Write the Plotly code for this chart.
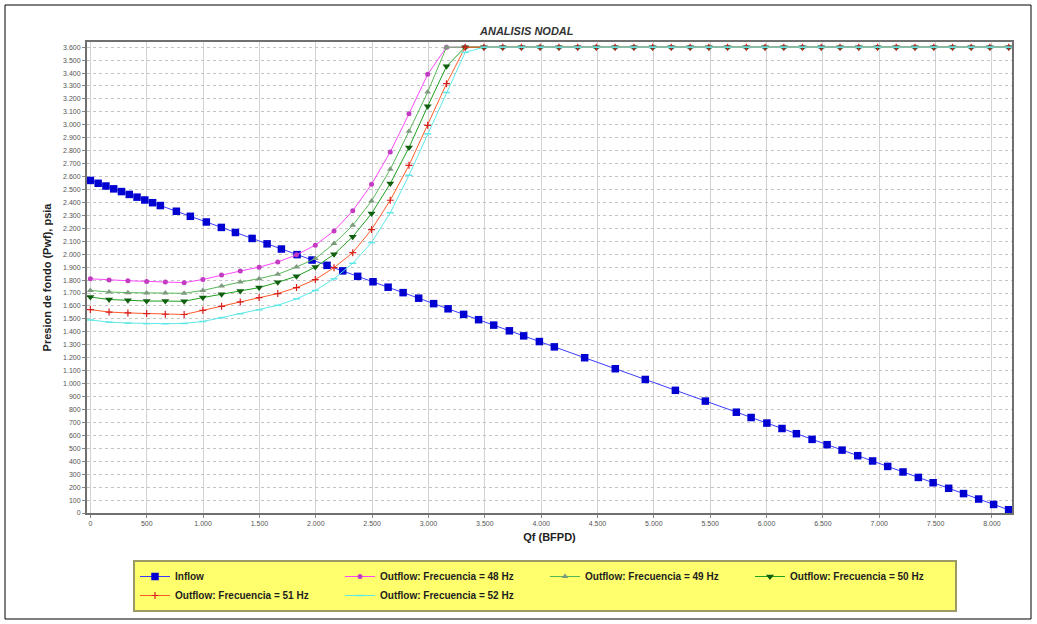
import plotly.graph_objects as go

# Inflow (IPR) curve: liquid rate (BFPD) vs bottom-hole flowing pressure (psia)
inflow_q = [0, 69, 138, 207, 276, 345, 414, 483, 552, 621, 763, 887, 1029, 1162, 1287,
            1435, 1568, 1695, 1834, 1967, 2100, 2239, 2372, 2508, 2642, 2775, 2913, 3046,
            3174, 3312, 3445, 3579, 3718, 3845, 3984, 4117, 4386, 4658, 4924, 5191, 5457,
            5732, 5863, 6003, 6137, 6265, 6404, 6537, 6670, 6809, 6941, 7075, 7211, 7347,
            7478, 7616, 7748, 7882, 8015, 8148]
inflow_p = [2570, 2548, 2527, 2505, 2484, 2462, 2441, 2419, 2398, 2376, 2332, 2293, 2249,
            2207, 2168, 2122, 2080, 2040, 1997, 1955, 1914, 1871, 1829, 1787, 1745, 1703,
            1660, 1618, 1578, 1535, 1494, 1452, 1408, 1369, 1325, 1284, 1200, 1115, 1032,
            948, 865, 779, 738, 695, 653, 613, 569, 528, 486, 443, 402, 360, 317, 275, 234,
            191, 150, 108, 66, 25]

# Outflow (VLP) curves share one rate grid
outflow_q = [0, 166, 333, 499, 665, 832, 998, 1164, 1330, 1497, 1663, 1829, 1996, 2162,
             2328, 2495, 2661, 2827, 2993, 3160, 3326, 3492, 3659, 3825, 3991, 4158, 4324,
             4490, 4656, 4823, 4989, 5155, 5322, 5488, 5654, 5821, 5987, 6153, 6319, 6486,
             6652, 6818, 6985, 7151, 7317, 7484, 7650, 7816, 7982, 8149]

p_48hz = [1810, 1800, 1795, 1790, 1785, 1780, 1805, 1840, 1870, 1900, 1940, 1995, 2070,
          2180, 2335, 2540, 2790, 3085, 3390, 3600, 3600, 3600, 3600, 3600, 3600, 3600,
          3600, 3600, 3600, 3600, 3600, 3600, 3600, 3600, 3600, 3600, 3600, 3600, 3600,
          3600, 3600, 3600, 3600, 3600, 3600, 3600, 3600, 3600, 3600, 3600]
p_49hz = [1720, 1708, 1703, 1700, 1700, 1698, 1720, 1754, 1785, 1811, 1845, 1901, 1966,
          2082, 2223, 2411, 2656, 2950, 3253, 3600, 3600, 3600, 3600, 3600, 3600, 3600,
          3600, 3600, 3600, 3600, 3600, 3600, 3600, 3600, 3600, 3600, 3600, 3600, 3600,
          3600, 3600, 3600, 3600, 3600, 3600, 3600, 3600, 3600, 3600, 3600]
p_50hz = [1669, 1650, 1644, 1638, 1638, 1636, 1665, 1690, 1716, 1742, 1783, 1829, 1901,
          1999, 2135, 2314, 2546, 2824, 3143, 3452, 3600, 3600, 3600, 3600, 3600, 3600,
          3600, 3600, 3600, 3600, 3600, 3600, 3600, 3600, 3600, 3600, 3600, 3600, 3600,
          3600, 3600, 3600, 3600, 3600, 3600, 3600, 3600, 3600, 3600, 3600]
p_51hz = [1572, 1553, 1546, 1541, 1536, 1534, 1566, 1597, 1631, 1665, 1696, 1742, 1804,
          1896, 2012, 2190, 2417, 2687, 2996, 3318, 3600, 3600, 3600, 3600, 3600, 3600,
          3600, 3600, 3600, 3600, 3600, 3600, 3600, 3600, 3600, 3600, 3600, 3600, 3600,
          3600, 3600, 3600, 3600, 3600, 3600, 3600, 3600, 3600, 3600, 3600]
p_52hz = [1492, 1475, 1468, 1463, 1463, 1465, 1480, 1510, 1540, 1570, 1605, 1655, 1720,
          1810, 1930, 2090, 2320, 2610, 2930, 3250, 3560, 3600, 3600, 3600, 3600, 3600,
          3600, 3600, 3600, 3600, 3600, 3600, 3600, 3600, 3600, 3600, 3600, 3600, 3600,
          3600, 3600, 3600, 3600, 3600, 3600, 3600, 3600, 3600, 3600, 3600]

FONT = "Liberation Sans, Arial, sans-serif"

fig = go.Figure()

fig.add_trace(go.Scatter(
    x=inflow_q, y=inflow_p, name="Inflow", mode="lines+markers",
    line=dict(color="#3c3cff", width=1),
    marker=dict(symbol="square", size=7.5, color="#0000d0", line=dict(width=0)),
))

outflows = [
    ("Outflow: Frecuencia = 48 Hz", p_48hz, "#ff48ff", dict(symbol="circle", size=5, color="#c23cc2")),
    ("Outflow: Frecuencia = 49 Hz", p_49hz, "#58b858", dict(symbol="triangle-up", size=6, color="#7e9a7e")),
    ("Outflow: Frecuencia = 50 Hz", p_50hz, "#1ea01e", dict(symbol="triangle-down", size=7, color="#0f5f0f")),
    ("Outflow: Frecuencia = 51 Hz", p_51hz, "#ff5a28", dict(symbol="cross-thin-open", size=5,
                                                           color="#d81e1e", line=dict(width=1.2, color="#d81e1e"))),
    ("Outflow: Frecuencia = 52 Hz", p_52hz, "#5ee8e8", dict(symbol="line-ew-open", size=5,
                                                           color="#5ee8e8", line=dict(width=1.5, color="#5ee8e8"))),
]
for name, p, lc, mk in outflows:
    fig.add_trace(go.Scatter(x=outflow_q, y=p, name=name, mode="lines+markers",
                             line=dict(color=lc, width=1), marker=mk))

# plot area: x 87..1012 px, y 42..513 px
L, R, T, B, W, H = 87, 25, 42, 111, 1037, 624
pw, ph = W - L - R, H - T - B


def px(xp):
    return (xp - L) / pw


def py(yp):
    return (H - B - yp) / ph


fig.update_layout(
    width=W, height=H,
    margin=dict(l=L, r=R, t=T, b=B, autoexpand=False),
    paper_bgcolor="white", plot_bgcolor="white",
    font=dict(family=FONT, color="#333"),
    separators=",.",
    showlegend=True,
    legend=dict(
        orientation="h", x=px(133), xanchor="left", y=py(560), yanchor="top",
        bgcolor="#ffff6e", bordercolor="#9a9a66", borderwidth=2,
        font=dict(family=FONT, size=10, color="#1e1e1e", weight="bold"),
        entrywidth=160, entrywidthmode="pixels", itemwidth=30,
    ),
    annotations=[dict(
        text="<b><i>ANALISIS NODAL</i></b>", x=px(526), y=py(31),
        xref="paper", yref="paper", xanchor="center", yanchor="middle",
        showarrow=False, font=dict(family=FONT, size=11, color="#333"),
    )],
    shapes=[dict(
        type="rect", xref="paper", yref="paper",
        x0=px(5), x1=px(1031), y0=py(619), y1=py(5),
        line=dict(color="black", width=1), fillcolor="rgba(0,0,0,0)", layer="below",
    )],
)

fig.update_xaxes(
    range=[-30, 8178], tick0=0, dtick=500, tickformat=",d",
    showgrid=True, gridcolor="#d2d2d2", gridwidth=1,
    showline=True, linecolor="#707070", linewidth=2, mirror=True,
    ticks="outside", ticklen=3, tickcolor="#888",
    tickfont=dict(family=FONT, size=7, color="#555"),
    zeroline=False, automargin=False,
    title=dict(text="Qf (BFPD)", standoff=7,
               font=dict(family=FONT, size=11, color="#222", weight="bold")),
)
fig.update_yaxes(
    range=[0, 3640], tick0=0, dtick=100, tickformat=",d",
    showgrid=True, gridcolor="#c4c4c4", gridwidth=1, griddash="dot",
    showline=True, linecolor="#707070", linewidth=2, mirror=True,
    ticks="outside", ticklen=3, tickcolor="#888",
    tickfont=dict(family=FONT, size=7, color="#555"),
    zeroline=False, automargin=False,
    title=dict(text="Presion de fondo (Pwf), psia", standoff=9,
               font=dict(family=FONT, size=11, color="#222", weight="bold")),
)

fig.write_html("out.html")
